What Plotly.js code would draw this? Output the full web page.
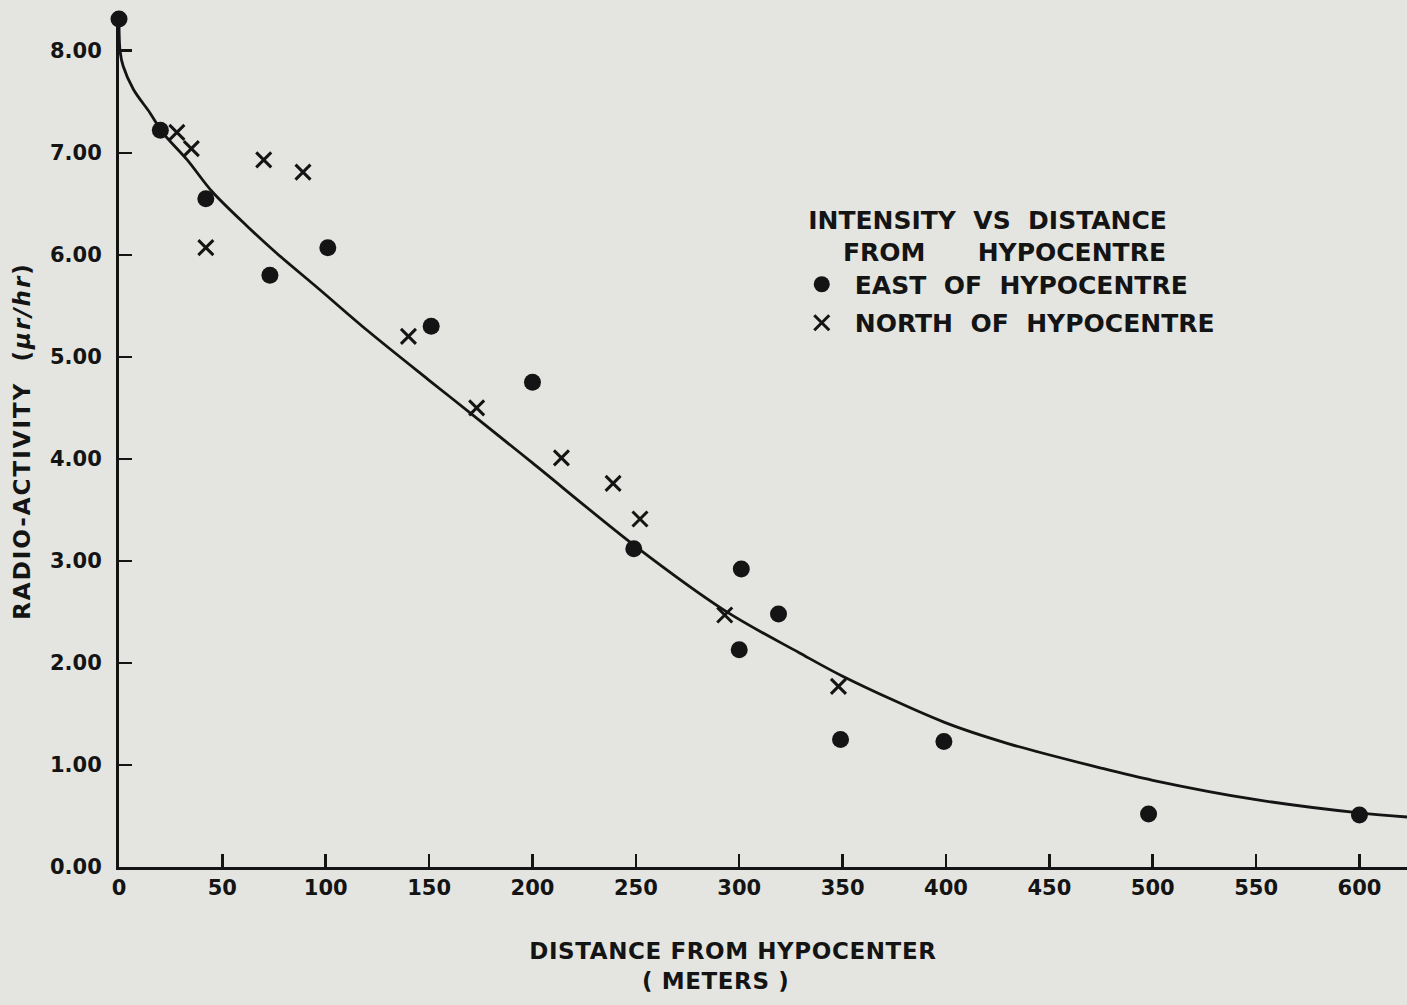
<!DOCTYPE html>
<html>
<head>
<meta charset="utf-8">
<script src="https://cdn.plot.ly/plotly-3.0.1.min.js"></script>
<style>
  html, body { margin: 0; padding: 0; background: #e4e5e0; }
  #chart { width: 1407px; height: 1005px; }
  #chart .xtitle { letter-spacing: 0.6px; }
  #chart .ytitle { letter-spacing: 2px; }
</style>
</head>
<body>
<div id="chart"></div>
<script>
// East of hypocentre (dots)
const eastDistance = [0, 20, 42, 73, 101, 151, 200, 249, 301, 300, 319, 349, 399, 498, 600];
const eastActivity = [8.31, 7.22, 6.55, 5.80, 6.07, 5.30, 4.75, 3.12, 2.92, 2.13, 2.48, 1.25, 1.23, 0.52, 0.51];

// North of hypocentre (crosses)
const northDistance = [28, 35, 42, 70, 89, 140, 173, 214, 239, 252, 293, 348];
const northActivity = [7.20, 7.04, 6.07, 6.93, 6.81, 5.20, 4.50, 4.01, 3.76, 3.41, 2.47, 1.77];

// Fitted curve
const curveDistance = [0, 0.5, 2, 7, 15, 21, 33, 45, 62, 76, 97, 120, 150, 173, 200, 250, 294, 329, 350, 399, 430, 475, 500, 550, 600, 623];
const curveActivity = [8.30, 8.00, 7.85, 7.62, 7.39, 7.20, 6.93, 6.62, 6.28, 6.02, 5.66, 5.26, 4.77, 4.40, 3.96, 3.14, 2.50, 2.10, 1.87, 1.42, 1.21, 0.97, 0.85, 0.66, 0.53, 0.49];

const xTicks = [0, 50, 100, 150, 200, 250, 300, 350, 400, 450, 500, 550, 600];
const yTicks = [0, 1, 2, 3, 4, 5, 6, 7, 8];
const yTickText = ['0.00', '1.00', '2.00', '3.00', '4.00', '5.00', '6.00', '7.00', '8.00'];

const ink = '#141414';
const fam = '"DejaVu Sans", "Liberation Sans", sans-serif';
const sp = n => '&nbsp;'.repeat(n);

const traces = [
  {
    x: curveDistance, y: curveActivity, type: 'scatter', mode: 'lines',
    line: { color: ink, width: 2.8, shape: 'spline', smoothing: 0.9 },
    showlegend: false, hoverinfo: 'skip', cliponaxis: false
  },
  {
    x: eastDistance, y: eastActivity, type: 'scatter', mode: 'markers',
    name: 'EAST' + sp(2) + 'OF' + sp(2) + 'HYPOCENTRE', legendgroup: 'east',
    marker: { symbol: 'circle', size: 17, color: ink },
    cliponaxis: false
  },
  {
    x: northDistance, y: northActivity, type: 'scatter', mode: 'markers',
    name: 'NORTH' + sp(2) + 'OF' + sp(2) + 'HYPOCENTRE', legendgroup: 'north',
    marker: { symbol: 'x-thin', size: 15, color: ink, line: { color: ink, width: 3 } },
    cliponaxis: false
  }
];

const layout = {
  width: 1407, height: 1005,
  paper_bgcolor: '#e4e5e0', plot_bgcolor: '#e4e5e0',
  margin: { l: 119, r: 0, t: 15, b: 138 },
  font: { family: fam, color: ink, weight: 'bold' },
  showlegend: true,
  legend: {
    x: 0.520, y: 0.787, xanchor: 'left', yanchor: 'top',
    bgcolor: 'rgba(0,0,0,0)',
    font: { family: fam, size: 25, color: ink, weight: 'bold' },
    title: { text: sp(2) + 'INTENSITY' + sp(2) + 'VS' + sp(2) + 'DISTANCE<br>' + sp(6) + 'FROM' + sp(6) + 'HYPOCENTRE', side: 'top',
             font: { family: fam, size: 25, color: ink, weight: 'bold' } },
    traceorder: 'grouped', tracegroupgap: 3, itemsizing: 'trace', itemwidth: 56
  },
  xaxis: {
    range: [0, 623], tickvals: xTicks, ticktext: xTicks.map(String),
    showline: true, linewidth: 3, linecolor: ink,
    ticks: 'inside', ticklen: 13, tickwidth: 2.5, tickcolor: ink,
    showgrid: false, zeroline: false,
    tickfont: { family: fam, size: 21, color: ink, weight: 'bold' },
    title: { text: 'DISTANCE FROM HYPOCENTER' + sp(7) + '<br>(' + sp(1) + 'METERS' + sp(1) + ')' + sp(11), standoff: 44,
             font: { family: fam, size: 23, color: ink, weight: 'bold' } }
  },
  yaxis: {
    range: [0, 8.35], tickvals: yTicks, ticktext: yTickText,
    showline: true, linewidth: 3, linecolor: ink,
    ticks: 'inside', ticklen: 13, tickwidth: 2.5, tickcolor: ink,
    showgrid: false, zeroline: false, ticklabelstandoff: 10,
    tickfont: { family: fam, size: 21, color: ink, weight: 'bold' },
    title: { text: 'RADIO-ACTIVITY  (<i>μr/hr</i>)', standoff: 13,
             font: { family: fam, size: 23, color: ink, weight: 'bold' } }
  }
};

Plotly.newPlot('chart', traces, layout, { displayModeBar: false, staticPlot: true });
</script>
</body>
</html>
